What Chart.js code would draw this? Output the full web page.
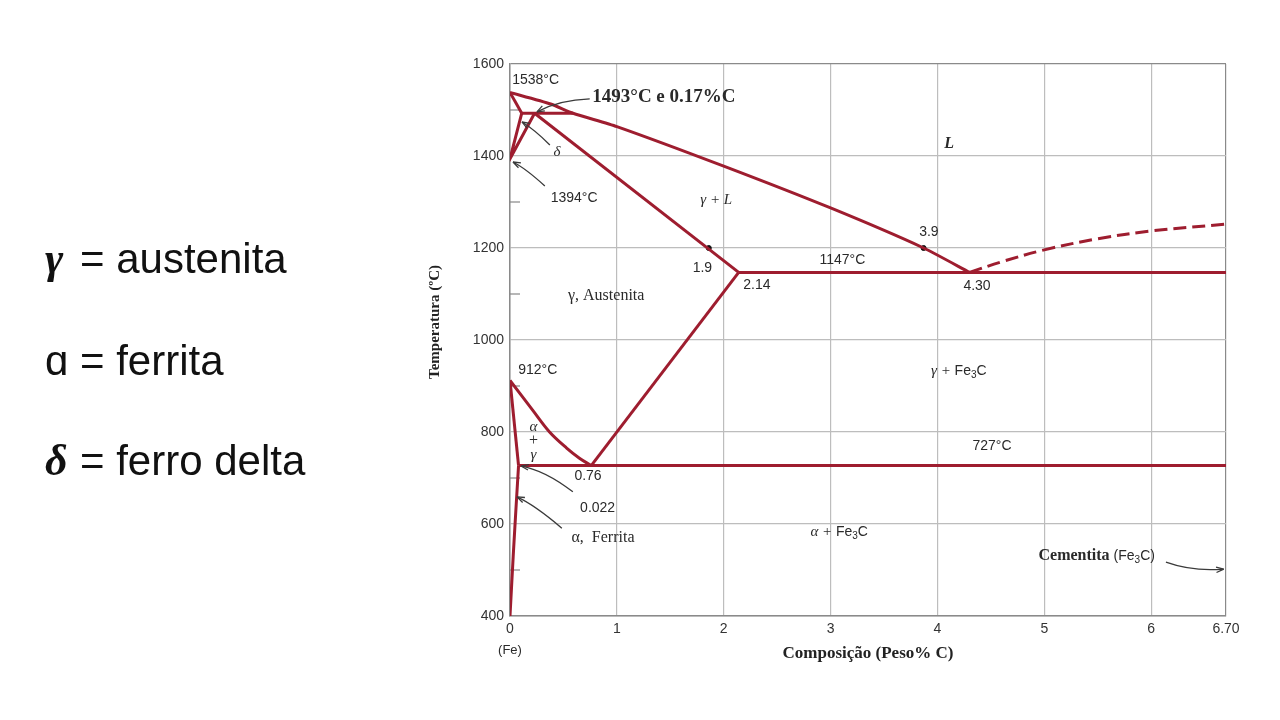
<!DOCTYPE html>
<html lang="pt">
<head>
<meta charset="utf-8">
<title>Diagrama Fe-Fe3C</title>
<script src="https://cdn.jsdelivr.net/npm/chart.js@4.4.1/dist/chart.umd.min.js"></script>
<style>
  html, body { margin: 0; padding: 0; background: #fff; }
  #wrap { width: 1280px; height: 720px; }
</style>
</head>
<body>
<div id="wrap"><canvas id="grafico-fe" width="1280" height="720"></canvas></div>
<script>
// linhas do diagrama (composição %C, temperatura °C)
const liquidusC = [0, 0.38, 0.59, 1.0, 2.0, 3.0, 3.87, 4.30];
const liquidusT = [1538, 1513, 1493, 1464, 1378, 1287, 1200, 1147];
const deltaSolidusC = [0, 0.11];
const deltaSolidusT = [1538, 1493];
const deltaGamaC = [0.11, 0, 0.23];
const deltaGamaT = [1493, 1394, 1493];
const peritetC = [0.11, 0.59];
const peritetT = [1493, 1493];
const solidusC = [0.23, 2.14];
const solidusT = [1493, 1147];
const acmC = [2.14, 0.76];
const acmT = [1147, 727];
const eutetC = [2.14, 6.70];
const eutetT = [1147, 1147];
const eutetoideC = [0.08, 6.70];
const eutetoideT = [727, 727];
const a3C = [0, 0.21, 0.37, 0.53, 0.65, 0.76];
const a3T = [912, 848, 800, 765, 743, 727];
const alfaGamaC = [0, 0.08];
const alfaGamaT = [912, 727];
const solvusAlfaC = [0.08, 0.06, 0.03, 0];
const solvusAlfaT = [727, 650, 530, 400];
const cementitaLiqC = [4.30, 4.6, 5.0, 5.5, 6.0, 6.70];
const cementitaLiqT = [1147, 1170, 1196, 1220, 1237, 1252];
const pontosC = [1.86, 3.87];
const pontosT = [1200, 1200];

const xTicks = [0, 1, 2, 3, 4, 5, 6, 6.7];
const yTicks = [400, 600, 800, 1000, 1200, 1400, 1600];
const yMenores = [500, 700, 900, 1100, 1300, 1500];

const VERMELHO = "#9e1d2f";
const TEXTO = "#2a2a2a";

function linha(cs, ts, extra) {
  return Object.assign({
    data: cs.map((c, i) => ({ x: c, y: ts[i] })),
    showLine: true,
    pointRadius: 0,
    borderColor: VERMELHO,
    borderWidth: 3,
    tension: 0,
    fill: false
  }, extra || {});
}

// texto com subscrito tipo Fe3C
function textoSub(ctx, partes, x, y, align) {
  let total = 0;
  partes.forEach(p => { ctx.font = p.font; total += ctx.measureText(p.t).width; });
  let cx = align === "center" ? x - total / 2 : x;
  ctx.textAlign = "left";
  partes.forEach(p => {
    ctx.font = p.font;
    ctx.fillText(p.t, cx, y + (p.dy || 0));
    cx += ctx.measureText(p.t).width;
  });
}

function seta(ctx, x0, y0, cx, cy, x1, y1) {
  ctx.beginPath();
  ctx.moveTo(x0, y0);
  ctx.quadraticCurveTo(cx, cy, x1, y1);
  ctx.stroke();
  const ang = Math.atan2(y1 - cy, x1 - cx);
  ctx.beginPath();
  ctx.moveTo(x1, y1);
  ctx.lineTo(x1 - 8 * Math.cos(ang - 0.35), y1 - 8 * Math.sin(ang - 0.35));
  ctx.moveTo(x1, y1);
  ctx.lineTo(x1 - 8 * Math.cos(ang + 0.35), y1 - 8 * Math.sin(ang + 0.35));
  ctx.stroke();
}

const anotacoes = {
  id: "anotacoes",
  beforeDatasetsDraw(chart) {
    const { ctx, scales: { x, y } } = chart;
    ctx.save();
    ctx.strokeStyle = "#888";
    ctx.lineWidth = 1.2;
    yMenores.forEach(v => {
      const py = y.getPixelForValue(v);
      ctx.beginPath();
      ctx.moveTo(x.left, py);
      ctx.lineTo(x.left + 10, py);
      ctx.stroke();
    });
    ctx.restore();
  },
  afterDatasetsDraw(chart) {
    const { ctx, scales: { x, y } } = chart;
    const X = v => x.getPixelForValue(v);
    const Y = v => y.getPixelForValue(v);
    ctx.save();
    ctx.fillStyle = TEXTO;
    ctx.textBaseline = "middle";

    const sans = "14px 'Liberation Sans', Arial, sans-serif";
    const serif = "16px 'Liberation Serif', 'Times New Roman', serif";
    const serifI = "italic 15px 'Liberation Serif', 'Times New Roman', serif";
    const serifB = "bold 16px 'Liberation Serif', 'Times New Roman', serif";

    const txt = (t, cx, ty, font, align) => {
      ctx.font = font;
      ctx.textAlign = align || "center";
      ctx.fillText(t, X(cx), Y(ty));
    };

    txt("1538°C", 0.02, 1565, sans, "left");
    ctx.font = "bold 19px 'Liberation Serif', serif";
    ctx.textAlign = "left";
    ctx.fillText("1493°C e 0.17%C", X(0.77), Y(1528));
    txt("δ", 0.44, 1409, serifI);
    txt("1394°C", 0.60, 1309, sans);
    txt("L", 4.11, 1426, "bold italic 16px 'Liberation Serif', serif");
    txt("γ + L", 1.93, 1304, serifI);
    txt("3.9", 3.92, 1235, sans);
    txt("1.9", 1.80, 1157, sans);
    txt("1147°C", 3.11, 1174, sans);
    txt("2.14", 2.31, 1120, sans);
    txt("4.30", 4.37, 1117, sans);
    txt("γ, Austenita", 0.90, 1096, serif);
    txt("912°C", 0.26, 935, sans);
    txt("α", 0.22, 811, serifI);
    txt("+", 0.22, 780, serif);
    txt("γ", 0.22, 750, serifI);
    txt("727°C", 4.51, 770, sans);
    txt("0.76", 0.73, 704, sans);
    txt("0.022", 0.82, 635, sans);
    txt("α,  Ferrita", 0.87, 570, serif);

    const sub = "10px 'Liberation Sans', Arial, sans-serif";
    const fe = "14px 'Liberation Sans', Arial, sans-serif";
    textoSub(ctx, [{ t: "γ + ", font: serifI }, { t: "Fe", font: fe }, { t: "3", font: sub, dy: 4 }, { t: "C", font: fe }], X(4.20), Y(933), "center");
    textoSub(ctx, [{ t: "α + ", font: serifI }, { t: "Fe", font: fe }, { t: "3", font: sub, dy: 4 }, { t: "C", font: fe }], X(3.08), Y(583), "center");
    textoSub(ctx, [{ t: "Cementita ", font: serifB }, { t: "(Fe", font: fe }, { t: "3", font: sub, dy: 4 }, { t: "C)", font: fe }], X(5.49), Y(530), "center");

    ctx.font = "13px 'Liberation Sans', Arial, sans-serif";
    ctx.textAlign = "center";
    ctx.fillText("(Fe)", X(0), y.bottom + 34);

    // título do eixo y
    ctx.save();
    ctx.translate(435, 322);
    ctx.rotate(-Math.PI / 2);
    ctx.font = "bold 15px 'Liberation Serif', 'Times New Roman', serif";
    ctx.fillStyle = "#222";
    ctx.fillText("Temperatura (ºC)", 0, 0);
    ctx.restore();

    // setas
    ctx.strokeStyle = "#3a3a3a";
    ctx.lineWidth = 1.3;
    seta(ctx, X(0.746), Y(1524), X(0.466), Y(1522), X(0.252), Y(1496));
    seta(ctx, X(0.373), Y(1424), X(0.233), Y(1457), X(0.112), Y(1474));
    seta(ctx, X(0.326), Y(1335), X(0.14), Y(1374), X(0.028), Y(1387));
    seta(ctx, X(0.588), Y(670), X(0.326), Y(717), X(0.103), Y(726));
    seta(ctx, X(0.485), Y(591), X(0.233), Y(641), X(0.065), Y(659));
    seta(ctx, X(6.138), Y(517), X(6.39), Y(496), X(6.679), Y(502));

    // legenda à esquerda
    ctx.fillStyle = "#111";
    ctx.textBaseline = "alphabetic";
    ctx.textAlign = "left";
    const grande = "42px 'Liberation Sans', Arial, sans-serif";
    const grego = "bold italic 44px 'Liberation Serif', 'Times New Roman', serif";
    ctx.font = grego; ctx.fillText("γ", 45, 273);
    ctx.font = grande; ctx.fillText("= austenita", 80, 273);
    ctx.font = grande; ctx.fillText("ɑ", 45, 375);
    ctx.fillText("= ferrita", 80, 375);
    ctx.font = grego; ctx.fillText("δ", 45, 475);
    ctx.font = grande; ctx.fillText("= ferro delta", 80, 475);
    ctx.restore();
  }
};

const corGrade = ctx => {
  const v = ctx.tick && ctx.tick.value;
  return (v === 1600 || v === 6.7) ? "#8a8a8a" : "#bdbdbd";
};

new Chart(document.getElementById("grafico-fe").getContext("2d"), {
  type: "scatter",
  data: {
    datasets: [
      linha(liquidusC, liquidusT, { tension: 0.2 }),
      linha(deltaSolidusC, deltaSolidusT),
      linha(deltaGamaC, deltaGamaT),
      linha(peritetC, peritetT),
      linha(solidusC, solidusT),
      linha(acmC, acmT),
      linha(eutetC, eutetT),
      linha(eutetoideC, eutetoideT),
      linha(a3C, a3T, { tension: 0.35 }),
      linha(alfaGamaC, alfaGamaT),
      linha(solvusAlfaC, solvusAlfaT, { tension: 0.3 }),
      linha(cementitaLiqC, cementitaLiqT, { tension: 0.35, borderDash: [13, 6] }),
      {
        data: pontosC.map((c, i) => ({ x: c, y: pontosT[i] })),
        showLine: false,
        pointRadius: 2.5,
        backgroundColor: "#111",
        borderColor: "#111"
      }
    ]
  },
  options: {
    responsive: false,
    animation: false,
    layout: { padding: { left: 420, right: 54, top: 64, bottom: 52 } },
    plugins: {
      legend: { display: false },
      tooltip: { enabled: false }
    },
    scales: {
      x: {
        type: "linear",
        min: 0,
        max: 6.7,
        afterBuildTicks: s => { s.ticks = xTicks.map(v => ({ value: v })); },
        afterFit: s => { s.height = 52; },
        ticks: {
          autoSkip: false,
          maxRotation: 0,
          padding: 5,
          color: "#333",
          font: { family: "'Liberation Sans', Arial, sans-serif", size: 14 },
          callback: v => v === 6.7 ? "6.70" : String(v)
        },
        grid: { color: corGrade, drawTicks: false, lineWidth: 1.2 },
        border: { color: "#8a8a8a", width: 1.5 },
        title: {
          display: true,
          text: "Composição (Peso% C)",
          color: "#222",
          font: { family: "'Liberation Serif', 'Times New Roman', serif", size: 17, weight: "bold" },
          padding: { top: 4, bottom: 4 }
        }
      },
      y: {
        type: "linear",
        min: 400,
        max: 1600,
        afterBuildTicks: s => { s.ticks = yTicks.map(v => ({ value: v })); },
        afterFit: s => { s.width = 90; },
        ticks: {
          padding: 6,
          color: "#333",
          font: { family: "'Liberation Sans', Arial, sans-serif", size: 14 },
          callback: v => String(v)
        },
        grid: { color: corGrade, drawTicks: false, lineWidth: 1.2 },
        border: { color: "#8a8a8a", width: 1.5 }
      }
    }
  },
  plugins: [anotacoes]
});
</script>
</body>
</html>
